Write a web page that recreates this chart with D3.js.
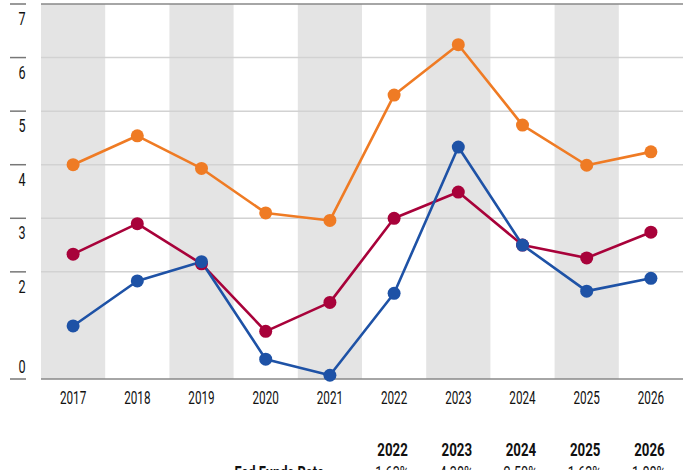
<!DOCTYPE html>
<html><head><meta charset="utf-8">
<script src="https://cdn.jsdelivr.net/npm/d3@7"></script>
<style>
html,body{margin:0;padding:0;background:#fff;overflow:hidden}
text{font-family:"Roboto","Liberation Sans",sans-serif;fill:#111}
</style></head>
<body><svg id="c" width="700" height="470"></svg>
<script>
const years = ["2017","2018","2019","2020","2021","2022","2023","2024","2025","2026"];
const orangeSeries = [4.00, 4.54, 3.93, 3.10, 2.96, 5.30, 6.24, 4.74, 3.99, 4.24];
const redSeries    = [2.33, 2.90, 2.15, 0.89, 1.43, 3.00, 3.49, 2.50, 2.26, 2.74];
const blueSeries   = [0.99, 1.83, 2.19, 0.37, 0.07, 1.60, 4.33, 2.50, 1.64, 1.88];
const yTickLabels = [7, 6, 5, 4, 3, 2, 0];
const gridValues = [2, 3, 4, 5, 6];
const tableYears = ["2022","2023","2024","2025","2026"];
const tableRowLabel = "Fed Funds Rate";
const tableRowValues = ["1.63%","4.38%","2.50%","1.63%","1.88%"];

const series = [
  {name:"orange", values: orangeSeries, color:"#EF7B24"},
  {name:"red", values: redSeries, color:"#A8023A"},
  {name:"blue", values: blueSeries, color:"#1E52A6"}
];

const svg = d3.select("#c");
const x = d3.scaleBand().domain(years).range([41, 683]).padding(0);
const y = d3.scaleLinear().domain([0, 7]).range([379, 4]);
const cx = d => x(d) + x.bandwidth()/2;

function condensed(sel, fx, fy, sx) {
  return sel.attr("x", 0).attr("y", 0)
    .attr("transform", (d,i) => `translate(${fx(d,i)},${fy(d,i)}) scale(${sx},1)`);
}

// alternating bands
svg.append("g").selectAll("rect").data(years.filter((d,i)=>i%2===0)).join("rect")
  .attr("x", d=>x(d)).attr("y", y(7)).attr("width", x.bandwidth()).attr("height", y(0)-y(7))
  .attr("fill", "#e4e4e4");

// gridlines
svg.append("g").selectAll("line").data(gridValues).join("line")
  .attr("x1", 41).attr("x2", 683).attr("y1", d=>y(d)).attr("y2", d=>y(d))
  .attr("stroke", "#d2d2d2").attr("stroke-width", 1.5);

// top and bottom lines
svg.append("g").selectAll("line").data([0, 7]).join("line")
  .attr("x1", 41).attr("x2", 683).attr("y1", d=>y(d)).attr("y2", d=>y(d))
  .attr("stroke", "#888").attr("stroke-width", 1.5);

// left tick marks
svg.append("g").selectAll("line").data(yTickLabels).join("line")
  .attr("x1", 10).attr("x2", 26).attr("y1", d=>y(d)).attr("y2", d=>y(d))
  .attr("stroke", "#777").attr("stroke-width", 1.5);

// y labels
condensed(svg.append("g").selectAll("text").data(yTickLabels).join("text"),
  () => 22, d => d === 0 ? y(0) - 6 : y(d) + 21, 0.72)
  .attr("text-anchor", "middle").attr("font-size", 17.5).text(d=>d);

// x labels
condensed(svg.append("g").selectAll("text").data(years).join("text"),
  d => cx(d), () => 404, 0.67)
  .attr("text-anchor", "middle").attr("font-size", 17.5).text(d=>d);

// lines and dots
const line = d3.line().x((d,i)=>cx(years[i])).y(d=>y(d));
const g = svg.append("g");
series.forEach(s => {
  g.append("path").attr("d", line(s.values)).attr("fill","none")
    .attr("stroke", s.color).attr("stroke-width", 2.6).attr("stroke-linejoin","round");
});
series.forEach(s => {
  g.append("g").selectAll("circle").data(s.values).join("circle")
    .attr("cx", (d,i)=>cx(years[i])).attr("cy", d=>y(d)).attr("r", 6.5)
    .attr("fill", s.color);
});

// table
condensed(svg.append("g").selectAll("text").data(tableYears).join("text"),
  d => cx(d) - 1.5, () => 455.7, 0.76)
  .attr("text-anchor","middle").attr("font-size", 17.5).attr("font-weight","bold").text(d=>d);
condensed(svg.append("text").datum(tableRowLabel), () => 324, () => 479, 0.74)
  .attr("text-anchor","end").attr("font-size", 17.5).attr("font-weight","bold").text(d=>d);
condensed(svg.append("g").selectAll("text").data(tableRowValues).join("text"),
  (d,i) => cx(tableYears[i]) - 2, () => 479, 0.72)
  .attr("text-anchor","middle").attr("font-size", 17.5).text(d=>d);
</script></body></html>
